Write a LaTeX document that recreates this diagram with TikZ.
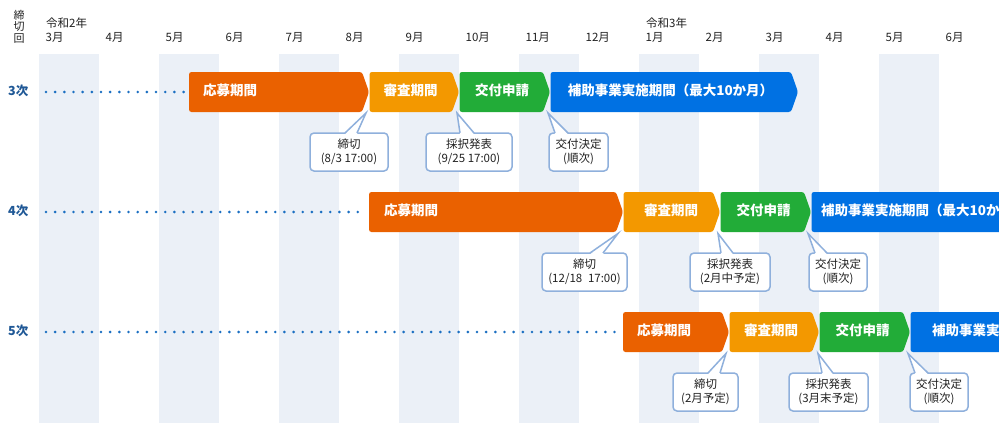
\documentclass[tikz,border=0pt]{standalone}
\usepackage{fontspec}
\setmainfont{Noto Sans CJK JP}
\definecolor{cOrange}{HTML}{EA6100}
\definecolor{cYellow}{HTML}{F39800}
\definecolor{cGreen}{HTML}{22AC38}
\definecolor{cBlue}{HTML}{0071E3}
\definecolor{cShade}{HTML}{EBF0F7}
\definecolor{cBorder}{HTML}{8FB0DC}
\definecolor{cLabel}{HTML}{1F5896}
\definecolor{cDot}{HTML}{1B6FC2}
\definecolor{cText}{HTML}{222222}
\tikzset{
  hdr/.style={font=\fontsize{11.5}{12}\selectfont, text=cText, anchor=west, inner sep=0pt, text height=0.8em, text depth=0.06em},
  rowlab/.style={font=\bfseries\fontsize{12.5}{13}\selectfont, text=cLabel, anchor=west, inner sep=0pt, text height=0.8em, text depth=0.06em},
  bartext/.style={font=\bfseries\fontsize{13.5}{14}\selectfont, text=white, inner sep=0pt, text height=0.8em, text depth=0.06em},
  barwest/.style={bartext, anchor=west},
  callout/.style={draw=cBorder, line width=1.5pt, fill=white, rounded corners=4pt, minimum height=38pt, inner sep=0pt, outer sep=0pt, align=center, font=\fontsize{11.5}{13.8}\selectfont, text=cText},
  pointer/.style={draw=cBorder, line width=1.5pt, line join=miter},
  dotline/.style={cDot, line width=2.9pt, line cap=round, dash pattern=on 0pt off 9.17pt},
}
\newcommand\chev[4]{%
  \fill[#1, rounded corners=2.5pt] (#2,#4) -- ({#3-7},#4) -- (#3,{#4+20}) -- ({#3-7},{#4+40}) -- (#2,{#4+40}) -- cycle;}
\newcommand\ptr[4]{% node, left offset, right offset, tip
  \fill[white] ([xshift=#2pt,yshift=-1.2pt]#1.north) -- (#4) -- ([xshift=#3pt,yshift=-1.2pt]#1.north) -- cycle;
  \draw[pointer] ([xshift=#2pt]#1.north) -- (#4) -- ([xshift=#3pt]#1.north);}
\begin{document}
\begin{tikzpicture}[x=1pt,y=-1pt]
\useasboundingbox (0,0) rectangle (999,423);
\clip (0,0) rectangle (999,423);
\fill[white] (0,0) rectangle (999,423);
% shaded columns
\foreach \k in {0,...,7} \fill[cShade] ({39+120*\k},54) rectangle ({99+120*\k},423);
% header
\node[font=\fontsize{11}{11.5}\selectfont, align=center, inner sep=0pt, text=cText] (kaisu) at (19,26.5) {締\\切\\回};
\node[hdr] (y2) at (46,24) {令和2年};
\node[hdr] (y3) at (646,24) {令和3年};
\foreach \c/\m [count=\i] in {39/3月,99/4月,159/5月,219/6月,279/7月,339/8月,399/9月,459/10月,519/11月,579/12月,639/1月,699/2月,759/3月,819/4月,879/5月,939/6月}
  \node[hdr] (m\i) at ({\c+6.5},38) {\m};
% row labels
\node[rowlab] (r3) at (8,92) {3次};
\node[rowlab] (r4) at (8,212) {4次};
\node[rowlab] (r5) at (8,332) {5次};
\coordinate (d3) at (46,92);
\coordinate (d4) at (46,212);
\coordinate (d5) at (46,332);
% ---- row 3次
\chev{cOrange}{189}{369}{72}
\chev{cYellow}{369.5}{459}{72}
\chev{cGreen}{459.5}{550}{72}
\chev{cBlue}{550.5}{798}{72}
\node[barwest] (a3) at (203,92) {応募期間};
\node[bartext] (b3) at (410.5,92) {審査期間};
\node[bartext] (c3) at (502,92) {交付申請};
\node[bartext] (e3) at (670.5,92) {補助事業実施期間（最大10か月）};
\draw[dotline] (d3) -- (184,92);
% ---- row 4次
\chev{cOrange}{369}{623}{192}
\chev{cYellow}{623.5}{720}{192}
\chev{cGreen}{720.5}{811}{192}
\chev{cBlue}{811.5}{1070}{192}
\node[barwest] (a4) at (384,212) {応募期間};
\node[bartext] (b4) at (671,212) {審査期間};
\node[bartext] (c4) at (763.5,212) {交付申請};
\node[barwest] (e4) at (821,212) {補助事業実施期間（最大10か月）};
\draw[dotline] (d4) -- (358,212);
% ---- row 5次
\chev{cOrange}{623}{729}{312}
\chev{cYellow}{729.5}{819}{312}
\chev{cGreen}{819.5}{910}{312}
\chev{cBlue}{910.5}{1170}{312}
\node[barwest] (a5) at (637,332) {応募期間};
\node[bartext] (b5) at (771,332) {審査期間};
\node[bartext] (c5) at (862.5,332) {交付申請};
\node[barwest] (e5) at (932,332) {補助事業実施期間（最大10か月）};
\draw[dotline] (d5) -- (616,332);
% ---- callouts row 3次
\coordinate (t3a) at (366,113);
\coordinate (t3b) at (457,113);
\coordinate (t3c) at (548,113);
\node[callout, minimum width=78pt] (k3a) at (349,152) {締切\\(8/3 17:00)};
\node[callout, minimum width=86pt] (k3b) at (469,152) {採択発表\\(9/25 17:00)};
\node[callout, minimum width=59pt] (k3c) at (578.5,152) {交付決定\\(順次)};
\ptr{k3a}{-4}{8}{t3a}
\ptr{k3b}{-9}{5}{t3b}
\ptr{k3c}{-23.5}{-10.5}{t3c}
% ---- callouts row 4次
\coordinate (t4a) at (618,233.5);
\coordinate (t4b) at (718,233.5);
\coordinate (t4c) at (808,233.5);
\node[callout, minimum width=85pt] (k4a) at (584.5,272) {締切\\(12/18\enspace17:00)};
\node[callout, minimum width=80pt] (k4b) at (730,272) {採択発表\\(2月中予定)};
\node[callout, minimum width=58pt] (k4c) at (838,272) {交付決定\\(順次)};
\ptr{k4a}{5.5}{18.5}{t4a}
\ptr{k4b}{-9}{3}{t4b}
\ptr{k4c}{-23}{-11}{t4c}
% ---- callouts row 5次
\coordinate (t5a) at (726,353.5);
\coordinate (t5b) at (818,353.5);
\coordinate (t5c) at (908,353.5);
\node[callout, minimum width=65pt] (k5a) at (705.5,392) {締切\\(2月予定)};
\node[callout, minimum width=79pt] (k5b) at (828.5,392) {採択発表\\(3月末予定)};
\node[callout, minimum width=58pt] (k5c) at (939,392) {交付決定\\(順次)};
\ptr{k5a}{2.5}{14.5}{t5a}
\ptr{k5b}{-6.5}{4.5}{t5b}
\ptr{k5c}{-24}{-11}{t5c}
\end{tikzpicture}
\end{document}
